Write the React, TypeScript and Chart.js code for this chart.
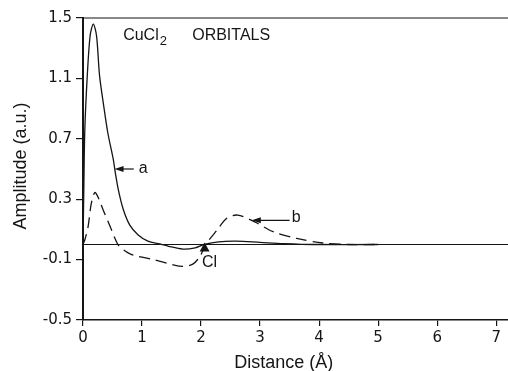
import React, { useEffect, useRef } from "react";
import { Chart, registerables } from "chart.js";

Chart.register(...registerables);

// Distance (Å) and amplitude (a.u.)
const orbitalAX = [0, 0.015, 0.03, 0.07, 0.12, 0.175, 0.23, 0.28, 0.35, 0.42, 0.51, 0.55, 0.6, 0.68, 0.79, 0.93, 1.1, 1.3, 1.45, 1.69, 1.9, 2.05, 2.3, 2.6, 3.0, 3.4, 3.9, 5.0];
const orbitalAY = [0.0, 0.4, 0.75, 1.1, 1.38, 1.46, 1.38, 1.12, 0.92, 0.74, 0.57, 0.47, 0.36, 0.235, 0.13, 0.065, 0.022, 0.004, -0.012, -0.03, -0.022, 0.0, 0.018, 0.022, 0.014, 0.006, 0.0, 0.0];

const orbitalBX = [0, 0.03, 0.085, 0.14, 0.2, 0.26, 0.34, 0.47, 0.53, 0.59, 0.64, 0.75, 0.85, 1.19, 1.53, 1.69, 1.86, 1.98, 2.08, 2.27, 2.44, 2.62, 2.91, 3.22, 3.62, 4.06, 4.5, 5.0];
const orbitalBY = [0.0, 0.03, 0.115, 0.27, 0.345, 0.31, 0.23, 0.11, 0.05, 0.0, -0.022, -0.052, -0.07, -0.1, -0.135, -0.145, -0.13, -0.08, 0.0, 0.095, 0.175, 0.195, 0.15, 0.085, 0.04, 0.01, 0.0, 0.0];

const xTicks = [0, 1, 2, 3, 4, 5, 6, 7];
const yTicks = [-0.5, -0.1, 0.3, 0.7, 1.1, 1.5];

const chlorinePosition = 2.06;
const titleMain = "CuCl";
const titleSub = "2";
const titleRest = "ORBITALS";
const xTitle = "Distance (Å)";
const yTitle = "Amplitude (a.u.)";

const INK = "#151515";
const TICK_FONT = { family: "DejaVu Sans", size: 15 };

const annotationPlugin = {
  id: "orbitalAnnotations",
  afterDatasetsDraw(chart: any) {
    const { ctx, chartArea, scales } = chart;
    const xs = scales.x;
    const ys = scales.y;
    const px = (v: number) => xs.getPixelForValue(v);
    const py = (v: number) => ys.getPixelForValue(v);
    ctx.save();
    ctx.strokeStyle = INK;
    ctx.fillStyle = INK;

    // top frame line
    ctx.lineWidth = 1.2;
    ctx.beginPath();
    ctx.moveTo(chartArea.left, chartArea.top);
    ctx.lineTo(chartArea.right, chartArea.top);
    ctx.stroke();

    // zero line
    ctx.lineWidth = 1;
    ctx.beginPath();
    ctx.moveTo(chartArea.left, py(0));
    ctx.lineTo(chartArea.right, py(0));
    ctx.stroke();

    // title
    ctx.font = "16px 'Liberation Sans'";
    ctx.textBaseline = "alphabetic";
    ctx.textAlign = "left";
    const tx = px(0.68);
    const ty = py(1.5) + 22;
    ctx.fillText(titleMain, tx, ty);
    const w1 = ctx.measureText(titleMain).width;
    ctx.font = "13px 'Liberation Sans'";
    ctx.fillText(titleSub, tx + w1 + 1, ty + 5);
    ctx.font = "16px 'Liberation Sans'";
    ctx.fillText(titleRest, px(1.85), ty);

    // arrows
    const arrow = (x1: number, y1: number, x2: number, label: string, lx: number, ly: number) => {
      const tipX = px(x1);
      const tipY = py(y1);
      const tailX = px(x2);
      ctx.lineWidth = 1.2;
      ctx.beginPath();
      ctx.moveTo(tipX + 6, tipY);
      ctx.lineTo(tailX, tipY);
      ctx.stroke();
      ctx.beginPath();
      ctx.moveTo(tipX, tipY);
      ctx.lineTo(tipX + 9, tipY - 3);
      ctx.lineTo(tipX + 9, tipY + 3);
      ctx.closePath();
      ctx.fill();
      ctx.font = "16px 'Liberation Sans'";
      ctx.textAlign = "center";
      ctx.textBaseline = "middle";
      ctx.fillText(label, px(lx), py(ly));
    };
    arrow(0.535, 0.5, 0.86, "a", 1.02, 0.5);
    arrow(2.86, 0.16, 3.5, "b", 3.61, 0.18);

    // chlorine nucleus marker
    const cx = px(chlorinePosition);
    const cy = py(0);
    ctx.beginPath();
    ctx.moveTo(cx, cy - 2);
    ctx.lineTo(cx + 5, cy + 7);
    ctx.lineTo(cx - 5, cy + 7);
    ctx.closePath();
    ctx.fill();
    ctx.font = "16px 'Liberation Sans'";
    ctx.textAlign = "center";
    ctx.textBaseline = "middle";
    ctx.fillText("Cl", cx + 5, cy + 18);

    // axis titles
    ctx.font = "18px 'Liberation Sans'";
    ctx.textAlign = "center";
    ctx.textBaseline = "middle";
    ctx.fillText(xTitle, px(3.4), chartArea.bottom + 43);
    ctx.save();
    ctx.translate(21, (chartArea.top + chartArea.bottom) / 2 - 3);
    ctx.rotate(-Math.PI / 2);
    ctx.fillText(yTitle, 0, 0);
    ctx.restore();

    ctx.restore();
  },
};

export default function App() {
  const canvasRef = useRef<HTMLCanvasElement | null>(null);

  useEffect(() => {
    const canvas = canvasRef.current;
    if (!canvas) return;
    const chart = new Chart(canvas, {
      type: "line",
      data: {
        datasets: [
          {
            label: "a",
            data: orbitalAX.map((x, i) => ({ x, y: orbitalAY[i] })),
            borderColor: INK,
            borderWidth: 1.3,
            pointRadius: 0,
            tension: 0.3,
            fill: false,
          },
          {
            label: "b",
            data: orbitalBX.map((x, i) => ({ x, y: orbitalBY[i] })),
            borderColor: INK,
            borderWidth: 1.3,
            borderDash: [11, 6],
            pointRadius: 0,
            tension: 0.3,
            fill: false,
          },
        ],
      },
      options: {
        animation: false,
        responsive: false,
        devicePixelRatio: 1,
        layout: { padding: { top: 18, right: 0, left: 0, bottom: 0 } },
        plugins: { legend: { display: false }, tooltip: { enabled: false }, title: { display: false } },
        scales: {
          x: {
            type: "linear",
            min: 0,
            max: 7.2,
            afterBuildTicks: (s: any) => {
              s.ticks = xTicks.map((v) => ({ value: v }));
            },
            afterFit: (s: any) => {
              s.height = 51;
            },
            ticks: {
              color: INK,
              font: TICK_FONT,
              padding: 3,
              maxRotation: 0,
              autoSkip: false,
              callback: (v: any) => String(v),
            },
            grid: { drawOnChartArea: false, drawTicks: true, tickLength: 6, color: INK, lineWidth: 1.2 },
            border: { display: true, color: INK, width: 1.5 },
          },
          y: {
            type: "linear",
            min: -0.5,
            max: 1.5,
            afterBuildTicks: (s: any) => {
              s.ticks = yTicks.map((v) => ({ value: v }));
            },
            afterFit: (s: any) => {
              s.width = 83;
            },
            ticks: {
              color: INK,
              font: TICK_FONT,
              padding: 4,
              autoSkip: false,
              callback: (v: any) => Number(v).toFixed(1),
            },
            grid: { drawOnChartArea: false, drawTicks: true, tickLength: 7, color: INK, lineWidth: 1.2 },
            border: { display: true, color: INK, width: 2 },
          },
        },
      },
      plugins: [annotationPlugin],
    } as any);
    return () => chart.destroy();
  }, []);

  return (
    <div style={{ position: "fixed", left: 0, top: 0, width: 508, height: 371, background: "#fff" }}>
      <canvas ref={canvasRef} width={508} height={371} style={{ display: "block" }} />
    </div>
  );
}
